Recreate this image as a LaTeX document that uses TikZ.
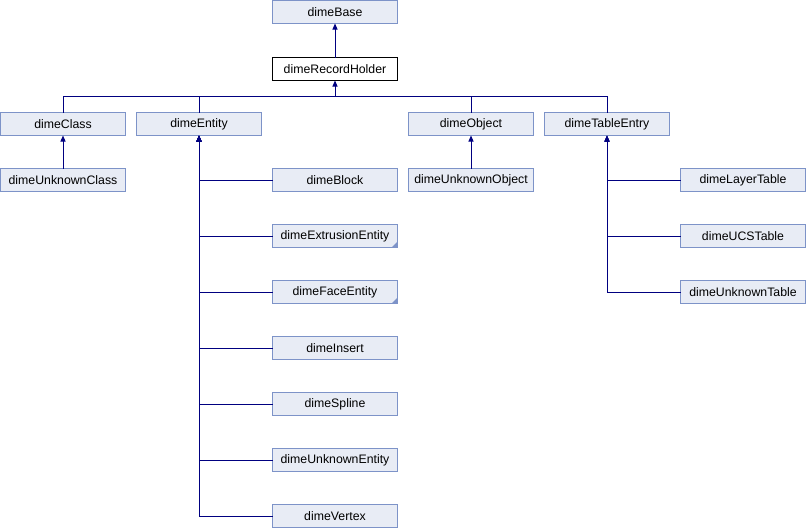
\documentclass[tikz,border=0pt]{standalone}
\usepackage{fontspec}
\setmainfont{Liberation Sans}
\usetikzlibrary{arrows.meta}
\definecolor{boxfill}{HTML}{E8ECF5}
\definecolor{boxdraw}{HTML}{7D93C8}
\definecolor{linkcol}{HTML}{000080}
\tikzset{
  cls/.style={draw=boxdraw, fill=boxfill, line width=1pt, minimum width=125pt, minimum height=23pt,
    inner sep=0pt, outer sep=0pt, font=\fontsize{12.3}{14}\selectfont, text=black},
  cur/.style={cls, draw=black, fill=white},
  link/.style={draw=linkcol, line width=1pt},
  inh/.style={link, -{Triangle[length=6pt,width=5pt]}},
  fold/.style={fill=boxdraw}
}
\begin{document}
\begin{tikzpicture}[x=1pt,y=-1pt]
\useasboundingbox (0,0) rectangle (806,528);
% positions: center = left+63, top+12
\node[cls] (base) at (335,12) {dimeBase};
\node[cur] (rh) at (335,69) {dimeRecordHolder};
\node[cls] (class) at (63,124) {dimeClass};
\node[cls] (entity) at (199,124) {dimeEntity};
\node[cls] (object) at (471,124) {dimeObject};
\node[cls] (tentry) at (607,124) {dimeTableEntry};
\node[cls] (uclass) at (63,180) {dimeUnknownClass};
\node[cls] (block) at (335,180) {dimeBlock};
\node[cls] (extr) at (335,236) {dimeExtrusionEntity};
\node[cls] (face) at (335,292) {dimeFaceEntity};
\node[cls] (insert) at (335,348) {dimeInsert};
\node[cls] (spline) at (335,404) {dimeSpline};
\node[cls] (uent) at (335,460) {dimeUnknownEntity};
\node[cls] (vertex) at (335,516) {dimeVertex};
\node[cls] (uobj) at (471,180) {dimeUnknownObject};
\node[cls] (layer) at (743,180) {dimeLayerTable};
\node[cls] (ucs) at (743,236) {dimeUCSTable};
\node[cls] (utable) at (743,292) {dimeUnknownTable};
% folded corners
\fill[fold] (extr.south east) -- ++(-6,0) -- ++(6,-6) -- cycle;
\fill[fold] (face.south east) -- ++(-6,0) -- ++(6,-6) -- cycle;
% bus
\coordinate (bus) at (335,96);
\draw[inh] (rh.north) -- (base.south);
\foreach \c in {class,entity,object,tentry}
  \draw[link] (\c.north) |- (bus);
\draw[inh] (bus) -- (rh.south);
\draw[inh] (uclass.north) -- (class.south);
\draw[inh] (uobj.north) -- (object.south);
\foreach \c in {block,extr,face,insert,spline,uent,vertex}
  \draw[inh] (\c.west) -| (entity.south);
\foreach \c in {layer,ucs,utable}
  \draw[inh] (\c.west) -| (tentry.south);
\end{tikzpicture}
\end{document}
